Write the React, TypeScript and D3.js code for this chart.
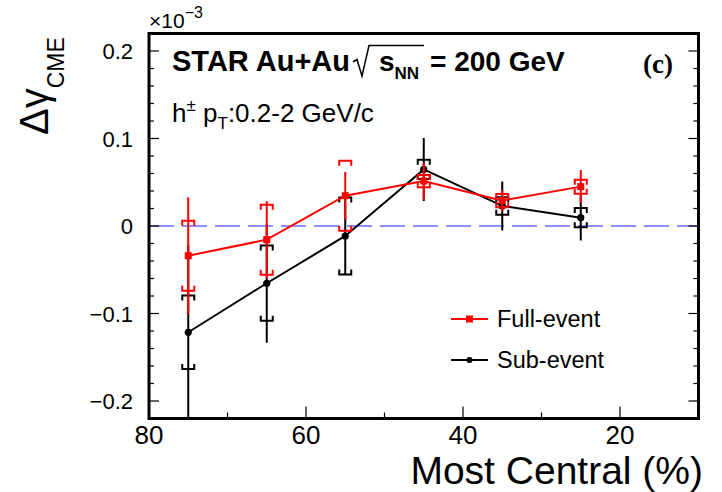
import * as d3 from "d3"

const centrality = [75, 65, 55, 45, 35, 25]

const fullValue = [-0.034, -0.0156, 0.0346, 0.0514, 0.029, 0.045]
const fullStat = [0.067, 0.044, 0.027, 0.021, 0.012, 0.019]
const fullSys = [0.04, 0.04, 0.04, 0.007, 0.0075, 0.008]

const subValue = [-0.1214, -0.0654, -0.0114, 0.0647, 0.023, 0.0095]
const subStat = [0.1, 0.068, 0.045, 0.036, 0.028, 0.026]
const subSys = [0.042, 0.043, 0.044, 0.011, 0.01, 0.011]

const xTickLabels = [80, 60, 40, 20]
const yTickLabels = [0.2, 0.1, 0, -0.1, -0.2]

const W = 722, H = 492
const L = 149, R = 698.5, T = 33.5, B = 418.5
const x = d3.scaleLinear().domain([80, 10]).range([L, R])
const y = d3.scaleLinear().domain([-0.22, 0.22]).range([B, T])

const FONT = "'Liberation Sans', Arial, Helvetica, sans-serif"
const RED = "#ff0000"
const BLUE = "#6a6aff"

const fmtY = (v: number) => (v < 0 ? "\u2212" + Math.abs(v).toFixed(1) : v === 0 ? "0" : v.toFixed(1))

type SeriesProps = {
  values: number[]
  stat: number[]
  sys: number[]
  color: string
  marker: "square" | "circle"
}

function Series({ values, stat, sys, color, marker }: SeriesProps) {
  const line = d3.line<number>().x((_, i) => x(centrality[i])).y(d => y(d))
  const hw = 6, prong = 5
  return (
    <g>
      <path d={line(values) || ""} fill="none" stroke={color} strokeWidth={2} />
      {values.map((v, i) => {
        const cx = x(centrality[i])
        const yt = y(v + sys[i]), yb = y(v - sys[i])
        return (
          <g key={i} fill="none" stroke={color} strokeWidth={2}>
            <line x1={cx} x2={cx} y1={y(v + stat[i])} y2={y(v - stat[i])} />
            <path d={`M${cx - hw},${yt + prong}V${yt}H${cx + hw}V${yt + prong}`} />
            <path d={`M${cx - hw},${yb - prong}V${yb}H${cx + hw}V${yb - prong}`} />
          </g>
        )
      })}
      {values.map((v, i) =>
        marker === "square" ? (
          <rect key={i} x={x(centrality[i]) - 3.5} y={y(v) - 3.5} width={7} height={7} fill={color} />
        ) : (
          <circle key={i} cx={x(centrality[i])} cy={y(v)} r={3.6} fill={color} />
        )
      )}
    </g>
  )
}

export default function App() {
  const xMinor = d3.range(20, 80, 10)
  const yMinor = d3.range(-10, 11).map(k => k * 0.02)
  return (
    <svg width={W} height={H} style={{ position: "absolute", left: 0, top: 0, background: "#fff" }} fontFamily={FONT}>
      <defs>
        <clipPath id="frame">
          <rect x={L} y={T} width={R - L} height={B - T} />
        </clipPath>
      </defs>

      {/* zero line */}
      <line x1={L} x2={R} y1={y(0)} y2={y(0)} stroke={BLUE} strokeWidth={1.6} strokeDasharray="25 8" />

      <g clipPath="url(#frame)">
        <Series values={subValue} stat={subStat} sys={subSys} color="#000" marker="circle" />
        <Series values={fullValue} stat={fullStat} sys={fullSys} color={RED} marker="square" />
      </g>

      {/* ticks */}
      <g stroke="#000" strokeWidth={1.2}>
        {xMinor.map(t => {
          const len = t % 20 === 0 ? 12 : 6
          return <line key={t} x1={x(t)} x2={x(t)} y1={B} y2={B - len} />
        })}
        {yMinor.map((t, i) => {
          const len = i % 5 === 0 ? 10 : 5
          return (
            <g key={i}>
              <line x1={L} x2={L + len} y1={y(t)} y2={y(t)} />
              <line x1={R} x2={R - len} y1={y(t)} y2={y(t)} />
            </g>
          )
        })}
      </g>

      <rect x={L} y={T} width={R - L} height={B - T} fill="none" stroke="#000" strokeWidth={3} />

      {/* tick labels */}
      {xTickLabels.map(t => (
        <text key={t} x={x(t)} y={444} textAnchor="middle" fontSize={26}>{t}</text>
      ))}
      {yTickLabels.map(t => (
        <text key={t} x={133} y={y(t) + 8} textAnchor="end" fontSize={22}>{fmtY(t)}</text>
      ))}

      <text x={149} y={28} fontSize={21}>
        ×10<tspan fontSize={16} dy={-10}>−3</tspan>
      </text>

      {/* axis titles */}
      <text x={703} y={484} textAnchor="end" fontSize={39}>Most Central (%)</text>
      <text transform="translate(48,135) rotate(-90)" fontSize={40}>
        Δγ<tspan fontSize={23} dy={16}>CME</tspan>
      </text>

      {/* header */}
      <text x={172} y={71} fontSize={29} fontWeight="bold">STAR Au+Au</text>
      <path d="M353,62 L357,59.5 L362,76 L369,45.5 L424,45.5" fill="none" stroke="#000" strokeWidth={1.5} />
      <text x={379} y={71} fontSize={28} fontWeight="bold">
        s<tspan fontSize={17} dy={8}>NN</tspan>
      </text>
      <text x={430} y={71} fontSize={28} fontWeight="bold">= 200 GeV</text>
      <text x={643} y={73} fontSize={27} fontWeight="bold" fontFamily="'Liberation Serif', 'Times New Roman', serif">(c)</text>

      <text x={172} y={122} fontSize={26}>
        h<tspan fontSize={17} dy={-11}>±</tspan>
        <tspan dy={11}> p</tspan>
        <tspan fontSize={17} dy={7}>T</tspan>
        <tspan dy={-7}>:0.2-2 GeV/c</tspan>
      </text>

      {/* legend */}
      <g>
        <line x1={451} x2={488} y1={319} y2={319} stroke={RED} strokeWidth={2} />
        <rect x={466} y={315.5} width={7} height={7} fill={RED} />
        <text x={497} y={327} fontSize={23.5}>Full-event</text>
        <line x1={451} x2={488} y1={360} y2={360} stroke="#000" strokeWidth={2} />
        <circle cx={469.5} cy={360} r={3} fill="#000" />
        <text x={497} y={368} fontSize={23.5}>Sub-event</text>
      </g>
    </svg>
  )
}
